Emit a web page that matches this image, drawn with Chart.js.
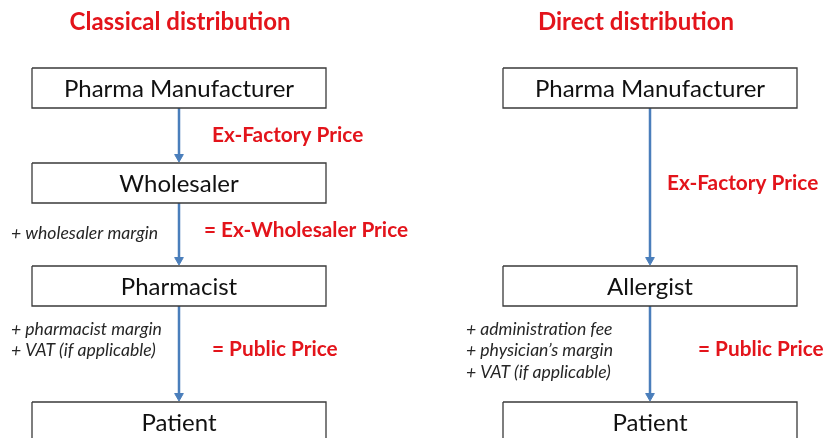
<!DOCTYPE html>
<html>
<head>
<meta charset="utf-8">
<script src="https://cdn.jsdelivr.net/npm/chart.js@4"></script>
<style>
  html, body { margin: 0; padding: 0; background: #fff; }
  #wrap { width: 827px; height: 438px; position: relative; }
</style>
</head>
<body>
<div id="wrap"><canvas id="flow"></canvas></div>
<script>
// stage labels of the two channels
var classicalStages = ['Pharma Manufacturer', 'Wholesaler', 'Pharmacist', 'Patient'];
var directStages = ['Pharma Manufacturer', 'Allergist', 'Patient'];

// price labels next to each arrow
var classicalPrices = ['Ex-Factory Price', '= Ex-Wholesaler Price', '= Public Price'];
var directPrices = ['Ex-Factory Price', '= Public Price'];

// cost items added along each arrow
var classicalAddons = [[], ['+ wholesaler margin'], ['+ pharmacist margin', '+ VAT (if applicable)']];
var directAddons = [[], ['+ administration fee', '+ physician\u2019s margin', '+ VAT (if applicable)']];

var titles = ['Classical distribution', 'Direct distribution'];

// layout (chart units = pixels of the 827x438 page)
var layout = {
    classical: { left: 32, right: 326, tops: [68, 163, 266, 402], arrowX: 179,
                 priceX: [212, 204, 212], priceY: [135, 230, 349],
                 addonX: 11, addonY: [[], [233], [329, 350]], titleX: 180 },
    direct:    { left: 503, right: 797, tops: [68, 266, 402], arrowX: 650,
                 priceX: [667, 698], priceY: [183, 349],
                 addonX: 466, addonY: [[], [329, 350, 372]], titleX: 636 },
    boxH: 40,
    titleY: 22
};

var RED = '#e3141b';
var BLUE = '#4a7ebb';

function boxDataset(l, r, top) {
    var b = top + layout.boxH;
    return {
        type: 'line',
        data: [{x: l, y: top}, {x: r, y: top}, {x: r, y: b}, {x: l, y: b}, {x: l, y: top}],
        borderColor: '#3a3a3a',
        borderWidth: 1.3,
        pointRadius: 0,
        fill: false,
        tension: 0
    };
}

function arrowDataset(x, y0, y1) {
    return {
        type: 'line',
        data: [{x: x, y: y0}, {x: x, y: y1}],
        borderColor: BLUE,
        backgroundColor: BLUE,
        borderWidth: 2.5,
        pointStyle: 'triangle',
        pointRadius: [0, 5],
        pointRotation: 180,
        pointBorderWidth: 1,
        fill: false
    };
}

function buildDatasets() {
    var sets = [];
    [['classical', classicalStages], ['direct', directStages]].forEach(function (pair) {
        var cfg = layout[pair[0]];
        pair[1].forEach(function (label, i) {
            sets.push(boxDataset(cfg.left, cfg.right, cfg.tops[i]));
            if (i > 0) {
                // arrow from previous box bottom to just above this box
                sets.push(arrowDataset(cfg.arrowX, cfg.tops[i - 1] + layout.boxH, cfg.tops[i] - 6));
            }
        });
    });
    return sets;
}

// draws every text through the chart scales
var textPlugin = {
    id: 'flowText',
    afterDatasetsDraw: function (chart) {
        var ctx = chart.ctx,
            xs = chart.scales.x,
            ys = chart.scales.y;
        ctx.save();
        ctx.textBaseline = 'middle';

        // titles
        ctx.fillStyle = RED;
        ctx.font = 'bold 24px Lato';
        ctx.textAlign = 'center';
        ctx.fillText(titles[0], xs.getPixelForValue(layout.classical.titleX), ys.getPixelForValue(layout.titleY));
        ctx.fillText(titles[1], xs.getPixelForValue(layout.direct.titleX), ys.getPixelForValue(layout.titleY));

        [['classical', classicalStages, classicalPrices, classicalAddons],
         ['direct', directStages, directPrices, directAddons]].forEach(function (group) {
            var cfg = layout[group[0]];
            // stage names
            ctx.fillStyle = '#111';
            ctx.font = '24px Lato';
            ctx.textAlign = 'center';
            group[1].forEach(function (label, i) {
                ctx.fillText(label, xs.getPixelForValue((cfg.left + cfg.right) / 2),
                    ys.getPixelForValue(cfg.tops[i] + layout.boxH / 2 + 1));
            });
            // prices
            ctx.fillStyle = RED;
            ctx.font = 'bold 20.8px Lato';
            ctx.textAlign = 'left';
            group[2].forEach(function (label, i) {
                ctx.fillText(label, xs.getPixelForValue(cfg.priceX[i]), ys.getPixelForValue(cfg.priceY[i]));
            });
            // add-ons
            ctx.fillStyle = '#262626';
            ctx.font = 'italic 17.6px Lato';
            group[3].forEach(function (lines, i) {
                lines.forEach(function (line, j) {
                    ctx.fillText(line, xs.getPixelForValue(cfg.addonX), ys.getPixelForValue(cfg.addonY[i][j]));
                });
            });
        });
        ctx.restore();
    }
};

new Chart(document.getElementById('flow'), {
    type: 'scatter',
    data: { datasets: buildDatasets() },
    options: {
        responsive: true,
        maintainAspectRatio: false,
        animation: false,
        layout: { padding: 0, autoPadding: false },
        plugins: { legend: { display: false }, tooltip: { enabled: false } },
        scales: {
            x: { type: 'linear', min: 0, max: 827, display: false },
            y: { type: 'linear', min: 0, max: 438, reverse: true, display: false }
        }
    },
    plugins: [textPlugin]
});
</script>
</body>
</html>
